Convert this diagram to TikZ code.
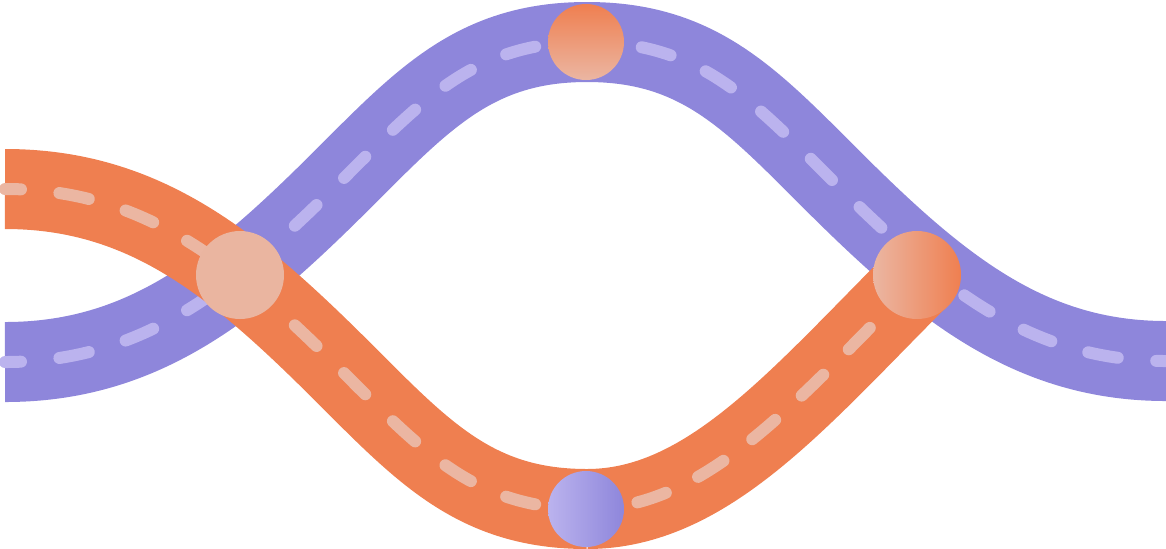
\documentclass[tikz,border=0pt]{standalone}
\definecolor{purpleband}{HTML}{8E86DB}
\definecolor{purpledash}{HTML}{BBB3EE}
\definecolor{orangeband}{HTML}{EF7F50}
\definecolor{orangedash}{HTML}{EBB6A2}
\definecolor{peach}{HTML}{EAB5A0}
\begin{document}
\begin{tikzpicture}[x=0.5pt,y=-0.5pt,
  band/.style={line width=40pt},
  lane/.style={line width=6pt, line cap=round, dash pattern=on 15pt off 19.3pt, dash phase=7pt},
  shortlane/.style={line width=6pt, line cap=round, dash pattern=on 15pt off 18pt, dash phase=7.5pt},
  stop/.style={circle, inner sep=0pt, draw=none}]
\useasboundingbox (0,0) rectangle (1166,548);
% purple route
\coordinate (pStart) at (5,362);
\coordinate (pRise) at (345,177);
\coordinate (pTop) at (587,42);
\coordinate (pFall) at (829,177);
\coordinate (pEnd) at (1166,361);
% orange route
\coordinate (oStart) at (5,189);
\coordinate (oFall) at (345,374);
\coordinate (oBottom) at (587,509);
\coordinate (oEnd) at (918,279);
\newcommand{\purpleroute}{(pStart) .. controls (145,362) and (235,287) .. (pRise)
  .. controls (425,97) and (477,42) .. (pTop)
  .. controls (697,42) and (749,97) .. (pFall)
  .. controls (939,287) and (1029,361) .. (pEnd)}
\newcommand{\orangeleft}{(oStart) .. controls (145,189) and (235,264) .. (oFall)
  .. controls (425,454) and (477,509) .. (oBottom)}
\newcommand{\orangeright}{(oBottom) .. controls (707,509) and (798,399) .. (oEnd)}
\draw[band, purpleband] \purpleroute;
\draw[lane, purpledash] \purpleroute;
\draw[band, orangeband] \orangeleft \orangeright;
\draw[lane, orangedash] \orangeleft;
\draw[shortlane, orangedash] \orangeright;
% stops
\node[stop, minimum size=38pt, top color=orangeband, bottom color=orangedash] (stopTop) at (586,42) {};
\node[stop, minimum size=44pt, fill=peach] (stopLeft) at (240,275) {};
\node[stop, minimum size=44pt, left color=orangedash, right color=orangeband] (stopRight) at (917,275) {};
\node[stop, minimum size=38pt, left color=purpledash, right color=purpleband] (stopBottom) at (586,509) {};
\end{tikzpicture}
\end{document}
